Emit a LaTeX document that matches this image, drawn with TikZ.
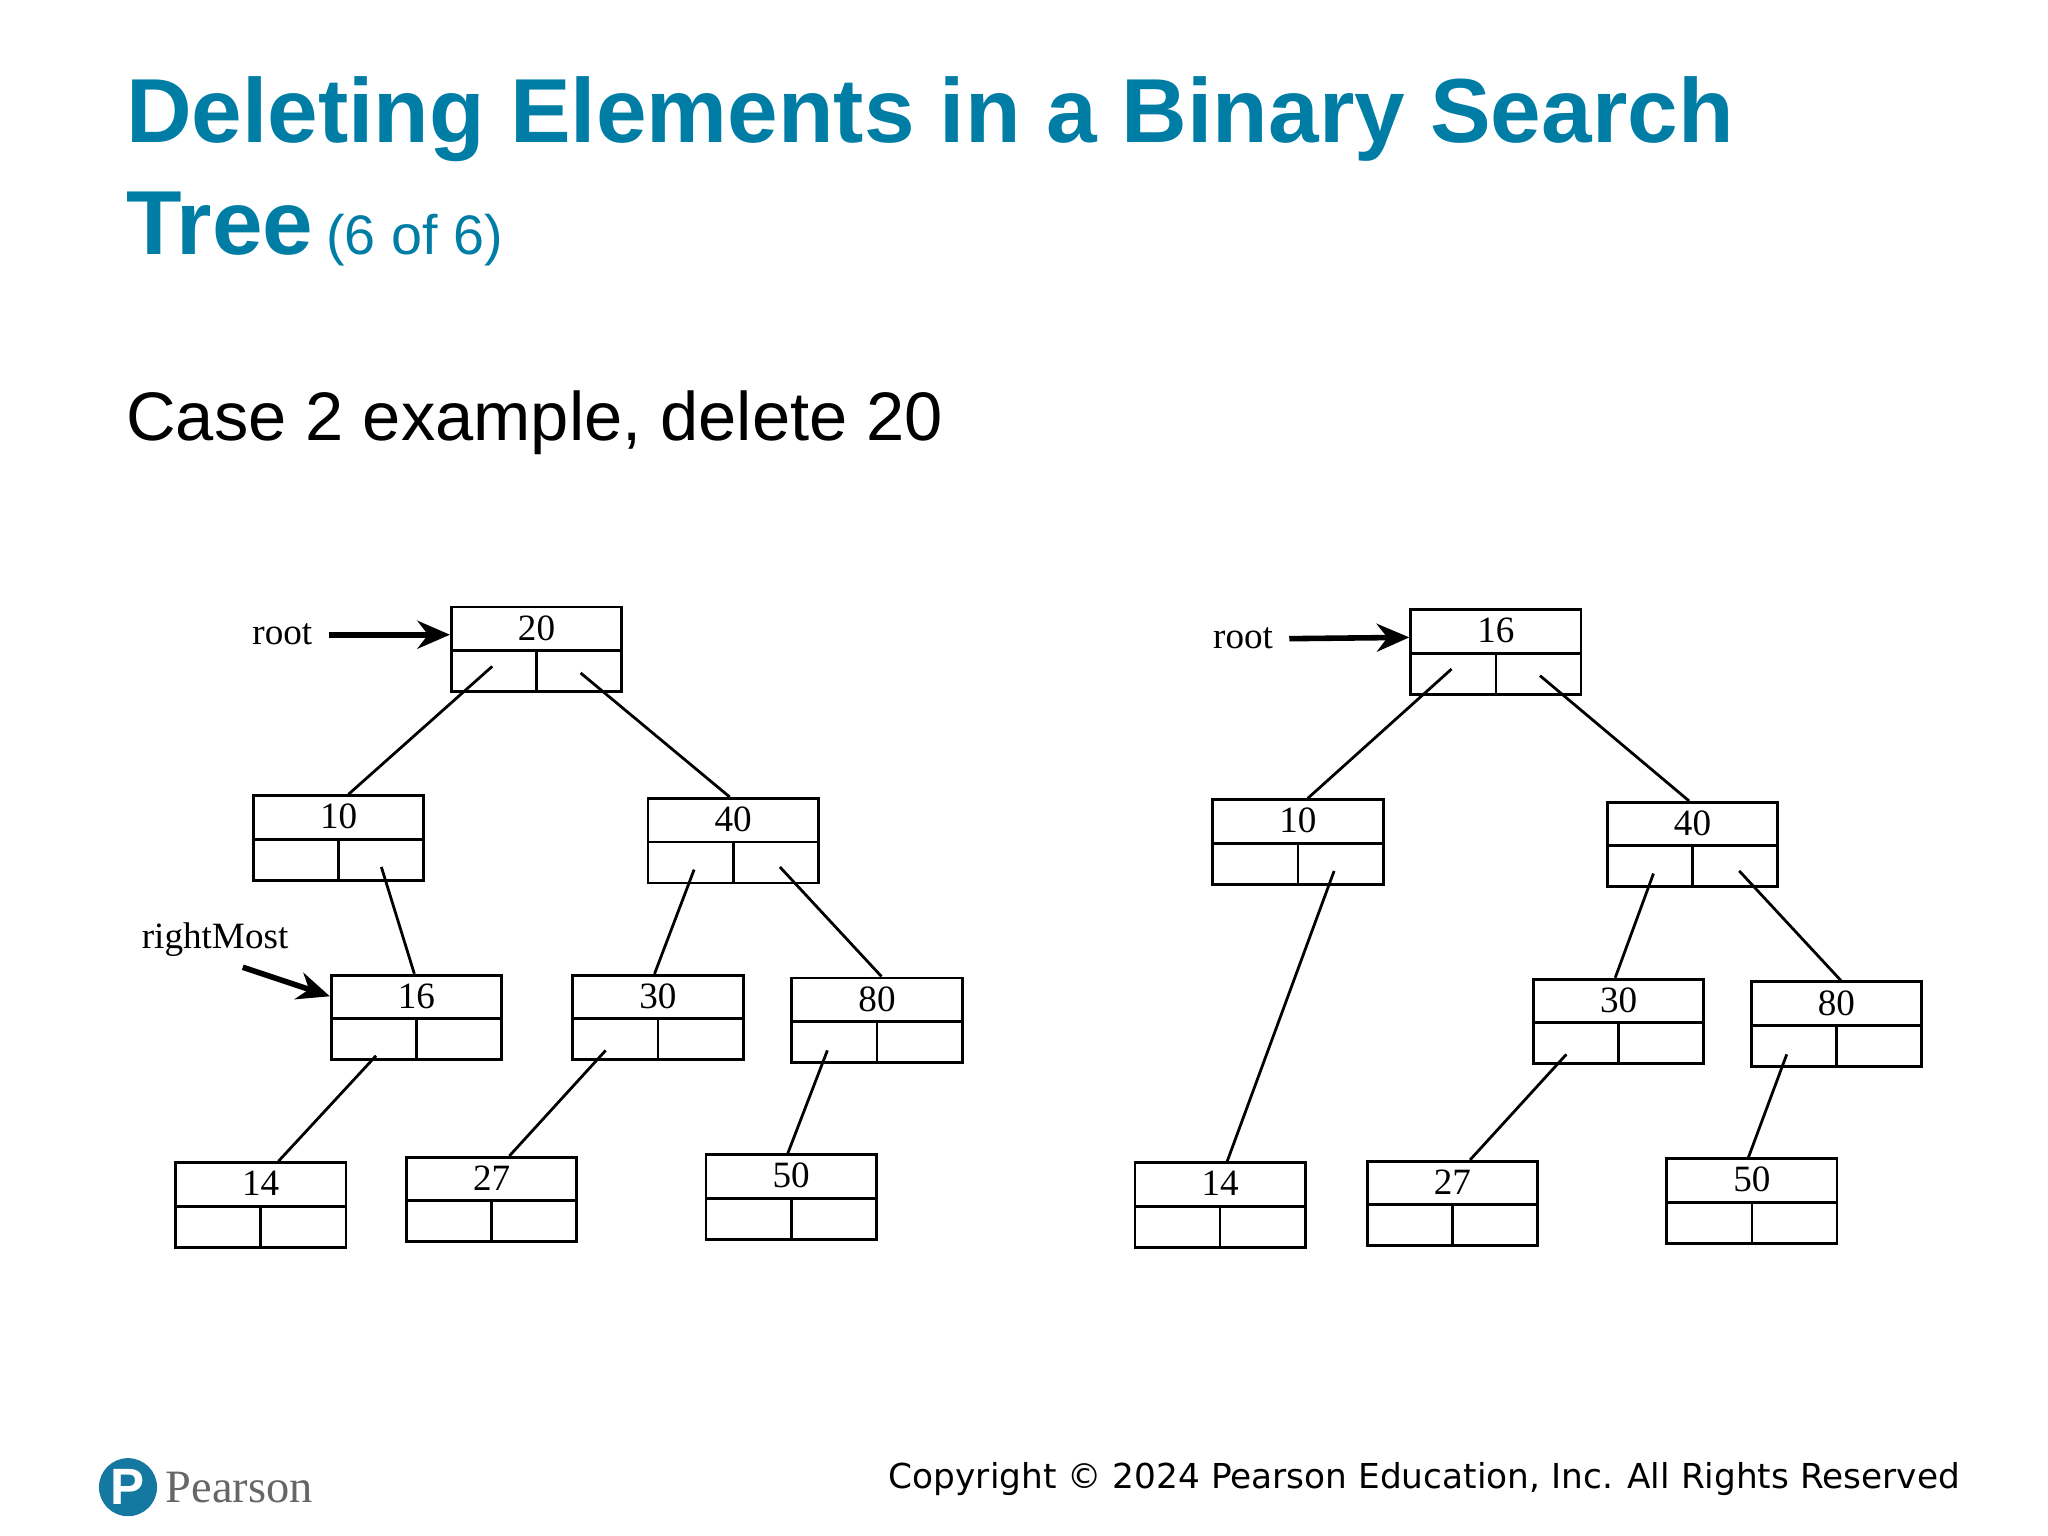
\documentclass[tikz,border=0pt]{standalone}
\usepackage{fontspec}
\setmainfont{Liberation Sans}
\newfontfamily\serifnum{Liberation Serif}
\newfontfamily\copyfont{DejaVu Sans}
\usetikzlibrary{calc,arrows.meta}
\definecolor{ptitle}{RGB}{0,125,165}
\definecolor{plogo}{RGB}{20,120,160}
\tikzset{bst/.style={draw,line width=0.6pt,minimum width=1.29cm,minimum height=0.64cm,inner sep=0pt,anchor=north west},
 edge/.style={line width=0.6pt},
 ptr/.style={line width=1.2pt,-{Stealth[length=7pt,width=6pt]}}}
\newcommand{\bnode}[4]{%
 \node[bst] (#1) at (#2,#3) {};
 \draw[line width=0.6pt] ($(#1.north west)+(0,34)$) -- ($(#1.north east)+(0,34)$);
 \draw[line width=0.6pt] ($(#1.north)+(0,34)$) -- (#1.south);
 \node[font=\serifnum\fontsize{8}{9}\selectfont] at ($(#1.north)+(0,17)$) {#4};}
\begin{document}
\begin{tikzpicture}[x=0.01cm,y=-0.01cm]
\useasboundingbox (0,0) rectangle (1552,1164);
\node[anchor=base west,text=ptitle,font=\bfseries\fontsize{19.6}{24}\selectfont,inner sep=0] at (95,108) {Deleting Elements in a Binary Search};
\node[anchor=base west,text=ptitle,inner sep=0] at (95,193) {{\bfseries\fontsize{19.6}{24}\selectfont Tree} {\fontsize{12}{14}\selectfont (6 of 6)}};
\node[anchor=base west,inner sep=0,font=\fontsize{14.8}{18}\selectfont] at (95,334) {Case 2 example, delete 20};
% left tree
\bnode{a20}{341}{459}{20}
\bnode{a10}{191}{602}{10}
\bnode{a40}{490}{604}{40}
\bnode{a16}{250}{738}{16}
\bnode{a30}{433}{738}{30}
\bnode{a80}{599}{740}{80}
\bnode{a14}{132}{880}{14}
\bnode{a27}{307}{876}{27}
\bnode{a50}{534}{874}{50}
\draw[edge] ($(a20.north west)+(32,46)$) -- ($(a10.north west)+(73,0)$);
\draw[edge] ($(a20.north west)+(99,51)$) -- ($(a40.north west)+(63,0)$);
\draw[edge] ($(a10.north west)+(98,55)$) -- ($(a16.north west)+(64,0)$);
\draw[edge] ($(a40.north west)+(36,55)$) -- ($(a30.north west)+(63,0)$);
\draw[edge] ($(a40.north west)+(101,53)$) -- ($(a80.north west)+(69,0)$);
\draw[edge] ($(a16.north west)+(35,62)$) -- ($(a14.north west)+(79,0)$);
\draw[edge] ($(a30.north west)+(26,58)$) -- ($(a27.north west)+(79,0)$);
\draw[edge] ($(a80.north west)+(28,56)$) -- ($(a50.north west)+(63,0)$);
\node[font=\serifnum\fontsize{8}{9}\selectfont] (r1) at (214,481) {root};
\coordinate (r1e) at (249,481);
\draw[ptr] (r1e) -- ($(a20.north west)+(0,22)$);
\node[font=\serifnum\fontsize{8}{9}\selectfont] (rm) at (163,712) {rightMost};
\coordinate (rms) at (184,733);
\draw[ptr] (rms) -- ($(a16.north west)+(0,17)$);
% right tree
\bnode{b16}{1068}{461}{16}
\bnode{b10}{918}{605}{10}
\bnode{b40}{1217}{607}{40}
\bnode{b30}{1161}{741}{30}
\bnode{b80}{1326}{743}{80}
\bnode{b14}{859}{880}{14}
\bnode{b27}{1035}{879}{27}
\bnode{b50}{1262}{877}{50}
\draw[edge] ($(b16.north west)+(32,46)$) -- ($(b10.north west)+(73,0)$);
\draw[edge] ($(b16.north west)+(99,51)$) -- ($(b40.north west)+(63,0)$);
\draw[edge] ($(b10.north west)+(93,55)$) -- ($(b14.north west)+(71,0)$);
\draw[edge] ($(b40.north west)+(36,55)$) -- ($(b30.north west)+(63,0)$);
\draw[edge] ($(b40.north west)+(101,53)$) -- ($(b80.north west)+(69,0)$);
\draw[edge] ($(b30.north west)+(26,58)$) -- ($(b27.north west)+(79,0)$);
\draw[edge] ($(b80.north west)+(28,56)$) -- ($(b50.north west)+(63,0)$);
\node[font=\serifnum\fontsize{8}{9}\selectfont] (r2) at (942,484) {root};
\coordinate (r2e) at (977,484);
\draw[ptr] (r2e) -- ($(b16.north west)+(0,22)$);
% footer
\node[circle,fill=plogo,minimum size=0.44cm,inner sep=0,text=white,font=\bfseries\fontsize{11}{12}\selectfont] (logo) at (97,1127) {P};
\node[anchor=west,text=gray!80!black,font=\serifnum\fontsize{10}{12}\selectfont,inner sep=0] (pn) at (125,1127) {Pearson};
\node[anchor=east,font=\copyfont\fontsize{7.4}{9}\selectfont,inner sep=0] (cp) at (1486,1121) {Copyright © 2024 Pearson Education, Inc. All Rights Reserved};
\end{tikzpicture}
\end{document}
